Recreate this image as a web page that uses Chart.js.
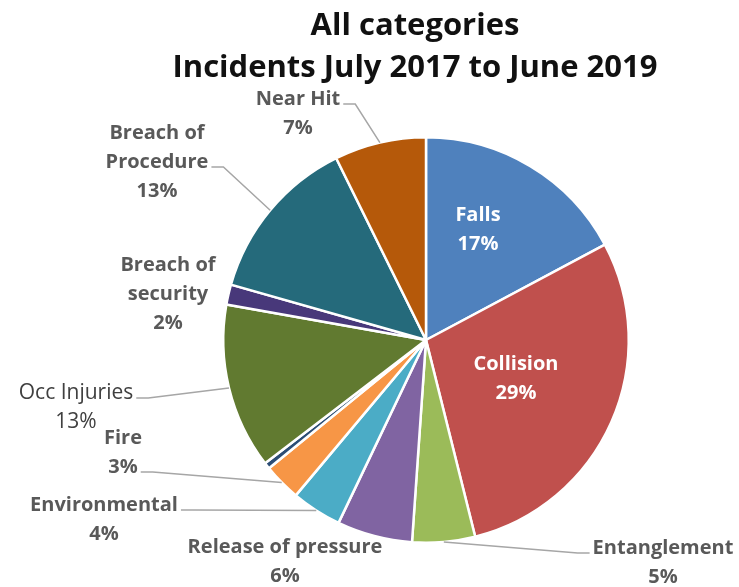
<!DOCTYPE html>
<html lang="en">
<head>
  <meta charset="utf-8">
  <script src="https://cdn.jsdelivr.net/npm/chart.js@4.4.1/dist/chart.umd.min.js"></script>
  <style>
    html, body { margin: 0; padding: 0; background: #fff; }
    #wrap { width: 739px; height: 587px; position: relative; }
  </style>
</head>
<body>
  <div id="wrap"><canvas id="pieChart" width="739" height="587"></canvas></div>

  <script>
    // data (share of incidents, %), clockwise from 12 o'clock
    const categories = ['Falls', 'Collision', 'Entanglement', 'Release of pressure', 'Environmental',
      'Fire', '', 'Occ Injuries', 'Breach of security', 'Breach of Procedure', 'Near Hit'];
    const shares = [17.2, 28.9, 5.0, 6.0, 4.0, 3.0, 0.5, 13.2, 1.6, 13.3, 7.3];
    const sliceColours = ['#4F81BD', '#C0504D', '#9BBB59', '#8064A2', '#4BACC6',
      '#F79646', '#2C4D75', '#617A30', '#48387A', '#256A7B', '#B5590A'];
    const titleLines = ['All categories', 'Incidents July 2017 to June 2019'];

    // label placement (first line centre, relative to pie centre), leader line attachment
    const labelSpots = [
      { dx: 52, dy: -125, inside: true },
      { dx: 90, dy: 24, inside: true },
      { dx: 237, dy: 208, lead: 0, side: 'left' },
      { dx: -141, dy: 207 },
      { dx: -322, dy: 165, lead: 0, side: 'right' },
      { dx: -303, dy: 98, lead: 1, side: 'right' },
      null,
      { dx: -350, dy: 53, lead: 0, side: 'right', light: true },
      { dx: -258, dy: -75, split: 'Breach of|security' },
      { dx: -269, dy: -207, lead: 1, side: 'right', split: 'Breach of|Procedure' },
      { dx: -128, dy: -241, lead: 0, side: 'right' }
    ];

    const FONT = '"Open Sans", "Liberation Sans", sans-serif';
    const total = shares.reduce((a, b) => a + b, 0);

    const pieLabels = {
      id: 'pieLabels',
      afterDraw(chart) {
        const ctx = chart.ctx;
        const arcs = chart.getDatasetMeta(0).data;
        ctx.save();

        // title
        ctx.fillStyle = '#111';
        ctx.textAlign = 'center';
        ctx.textBaseline = 'middle';
        ctx.font = 'bold 31px ' + FONT;
        ctx.fillText(titleLines[0], 415, 26);
        ctx.fillText(titleLines[1], 415, 68);

        const lineH = 29;
        arcs.forEach((arc, i) => {
          const spot = labelSpots[i];
          if (!spot) return;
          const pct = Math.round(shares[i] / total * 100) + '%';
          let lines = spot.split ? spot.split.split('|') : [categories[i]];
          lines = lines.concat([pct]);
          const cx = arc.x + spot.dx;
          const cy = arc.y + spot.dy;
          ctx.font = spot.light ? '21px ' + FONT : 'bold 20px ' + FONT;
          ctx.fillStyle = spot.inside ? '#fff' : (spot.light ? '#404040' : '#595959');
          lines.forEach((t, k) => ctx.fillText(t, cx, cy + k * lineH));

          if (spot.lead !== undefined) {
            const w = ctx.measureText(lines[spot.lead]).width;
            const ay = cy + spot.lead * lineH + 5;
            const ax = spot.side === 'right' ? cx + w / 2 + 3 : cx - w / 2 - 3;
            const bx = spot.side === 'right' ? ax + 12 : ax - 12;
            const mid = (arc.startAngle + arc.endAngle) / 2;
            const ex = arc.x + Math.cos(mid) * arc.outerRadius;
            const ey = arc.y + Math.sin(mid) * arc.outerRadius;
            ctx.strokeStyle = '#A6A6A6';
            ctx.lineWidth = 1.5;
            ctx.beginPath();
            ctx.moveTo(ax, ay);
            ctx.lineTo(bx, ay);
            ctx.lineTo(ex, ey);
            ctx.stroke();
          }
        });
        ctx.restore();
      }
    };

    new Chart(document.getElementById('pieChart'), {
      type: 'pie',
      data: {
        labels: categories,
        datasets: [{
          data: shares,
          backgroundColor: sliceColours,
          borderColor: '#ffffff',
          borderWidth: 2.5
        }]
      },
      options: {
        responsive: false,
        animation: false,
        layout: { padding: { top: 136, bottom: 43, left: 113, right: 0 } },
        plugins: {
          legend: { display: false },
          tooltip: { enabled: false },
          title: { display: false }
        }
      },
      plugins: [pieLabels]
    });
  </script>
</body>
</html>
